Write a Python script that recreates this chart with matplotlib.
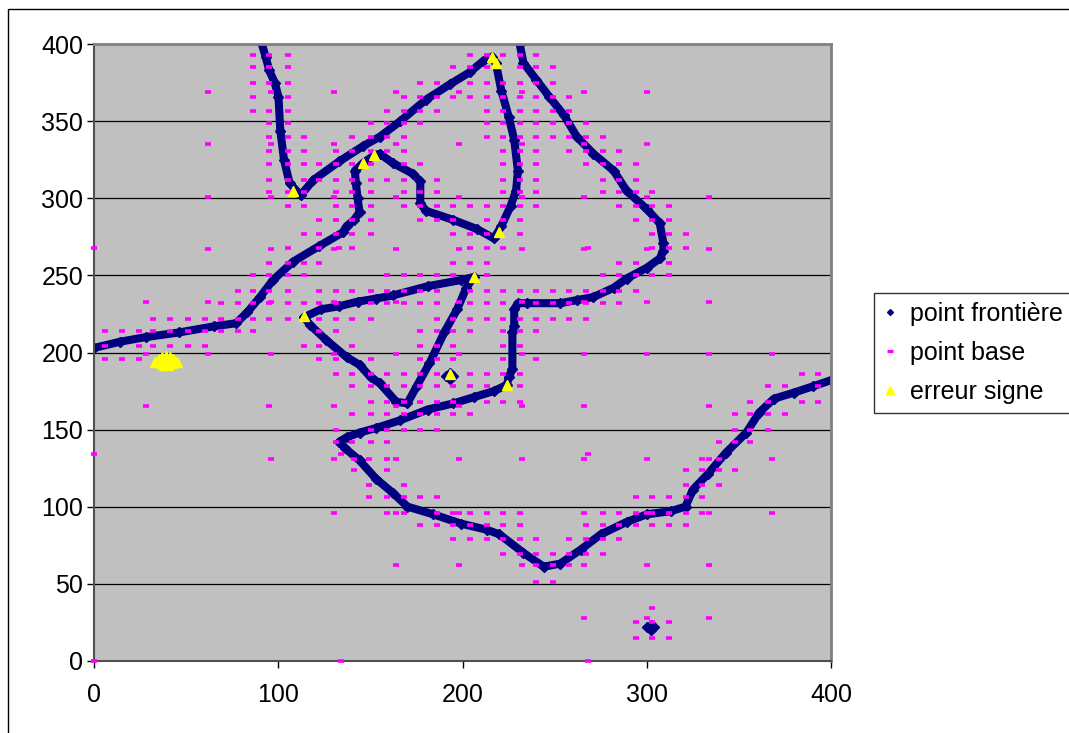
import matplotlib.pyplot as plt
from matplotlib.lines import Line2D
from matplotlib.patches import Rectangle

plt.rcParams['font.family'] = ['Liberation Sans', 'DejaVu Sans']

# point frontière : traced boundaries
front1_x = [0, 14, 28, 46, 65, 77, 83, 90, 97, 108, 122, 135, 137, 141, 144, 143, 142, 141.5,
            146, 152, 155, 162, 173, 177, 177, 180, 195, 208, 217, 221, 226, 229, 230, 228, 225,
            221, 218, 216, 211, 204, 193, 180, 166, 155, 146, 133, 119, 112, 106, 103, 101, 100,
            98, 95, 93, 91]
front1_y = [203, 207, 210, 213, 217, 219, 226, 236, 247, 259, 269, 278, 282, 286, 291, 300, 310, 318,
            323, 328, 329, 323, 316, 311, 297, 292, 286, 280, 274, 282, 295, 305, 318, 338, 353,
            370, 388, 392, 389, 382, 374, 364, 350, 340, 334, 324, 312, 302, 310, 325, 344, 366,
            375, 383, 392, 400]

front2_x = [231, 233, 240, 247, 255, 262, 271, 282, 289, 300, 307, 309, 309, 307, 300, 289, 282,
            271, 262, 253, 235, 230, 228, 228, 227, 227, 225, 224, 217, 206, 195, 181, 166, 153,
            144, 137, 133, 136, 144, 153, 162, 170, 184, 199, 213, 220, 233, 244, 253, 264, 275,
            289, 300, 313, 321, 325, 333, 343, 354, 361, 369, 380, 390, 400]
front2_y = [400, 388, 377, 366, 354, 340, 329, 318, 305, 293, 284, 271, 266, 261, 255, 248, 242,
            236, 234, 232, 232, 232, 228, 217, 213, 189, 184, 179, 175, 171, 167, 163, 156, 151,
            148, 145, 142, 138, 130, 118, 109, 100, 95, 89, 85, 82, 70, 61, 63, 72, 82,
            90, 95, 97, 100, 111, 121, 135, 148, 161, 170, 174, 178, 182]

front3_x = [114, 123, 133, 143, 153, 162, 181, 199, 206, 202, 197, 190, 182, 175, 170, 164, 155,
            150, 144, 137, 126, 117, 114]
front3_y = [223, 228, 230, 233, 235, 237, 243, 247, 249, 242, 228, 213, 193, 178, 167, 168, 180,
            184, 192, 197, 208, 218, 223]

spot_x = [191, 193, 195, 193, 300, 302, 304, 302]
spot_y = [185, 183, 185, 187, 22, 20, 22, 23]

# point base : rows of points (y value, x values)
base_y = [393, 385, 375, 369, 366, 357, 349, 340, 335, 331, 322, 312, 304, 301, 295, 286, 277,
          268, 267, 258, 250, 240, 233, 232, 222, 214, 204, 199, 196, 186, 178, 168, 165, 160,
          150, 142, 134, 131, 124, 114, 106, 96, 88, 79, 69, 62, 51, 34, 28, 25, 15, 0]
base_x = [
    [86, 95, 105, 204, 213, 222, 231, 240],
    [86, 95, 105, 195, 204, 213, 231, 240, 249],
    [86, 95, 105, 177, 186, 204, 213, 222, 231, 240, 249],
    [62, 96, 130, 164, 198, 232, 266, 300],
    [86, 105, 168, 177, 186, 195, 204, 213, 222, 231, 240, 249, 258],
    [86, 95, 105, 159, 168, 177, 186, 213, 222, 231, 240, 249, 258],
    [95, 105, 150, 159, 168, 177, 213, 222, 231, 240, 249, 258, 267],
    [95, 105, 114, 140, 150, 159, 168, 213, 222, 231, 240, 249, 258, 267, 276],
    [62, 96, 130, 164, 198, 232, 266, 300],
    [95, 105, 114, 131, 140, 150, 159, 168, 222, 231, 240, 258, 267, 276, 285],
    [95, 105, 114, 122, 131, 140, 150, 168, 177, 222, 231, 240, 267, 276, 285, 294],
    [95, 105, 114, 122, 131, 140, 150, 159, 168, 186, 222, 231, 240, 276, 285, 294],
    [95, 105, 114, 131, 140, 150, 168, 177, 186, 222, 231, 240, 276, 285, 294, 303],
    [62, 96, 130, 164, 198, 232, 266, 300, 334],
    [105, 114, 131, 140, 150, 168, 177, 186, 195, 204, 213, 222, 231, 240, 285, 294, 303, 312],
    [122, 131, 140, 150, 177, 186, 195, 213, 222, 231, 294, 303, 312],
    [114, 122, 131, 140, 150, 195, 204, 213, 231, 303, 312, 321],
    [0, 105, 122, 133, 140, 204, 213, 222, 268, 303, 312, 321],
    [62, 96, 130, 164, 198, 232, 266, 300, 334],
    [95, 105, 114, 122, 195, 204, 213, 285, 294, 312],
    [86, 95, 105, 114, 159, 168, 177, 186, 195, 213, 276, 285, 294, 303, 312],
    [78, 86, 95, 105, 122, 131, 140, 150, 159, 168, 177, 186, 204, 213, 222, 231, 240, 249, 258,
     267, 276, 285, 294],
    [28, 62, 96, 130, 164, 198, 232, 266, 300, 334],
    [69, 78, 86, 95, 105, 114, 122, 131, 150, 159, 168, 177, 186, 204, 213, 222, 240, 249, 258,
     267, 276, 285],
    [32, 41, 51, 60, 69, 78, 86, 95, 105, 122, 131, 140, 150, 186, 195, 204, 213, 222, 231, 240,
     249, 258, 267],
    [6, 15, 24, 32, 41, 51, 60, 69, 78, 86, 122, 131, 177, 186, 195, 204, 222, 231, 240],
    [6, 24, 32, 41, 51, 60, 114, 122, 140, 177, 186, 195, 222, 231],
    [28, 62, 96, 130, 164, 198, 232, 266, 300, 334, 368],
    [6, 15, 24, 122, 131, 150, 177, 186, 195, 222, 240],
    [131, 140, 150, 159, 168, 177, 186, 204, 213, 222, 231, 384, 393],
    [140, 150, 159, 168, 177, 186, 195, 204, 213, 231, 366, 375, 393],
    [150, 159, 168, 177, 186, 195, 213, 222, 231, 356, 366, 384, 393],
    [28, 95, 130, 164, 198, 232, 266, 334],
    [140, 150, 159, 168, 177, 186, 195, 204, 348, 356, 366, 375],
    [131, 150, 159, 168, 177, 186, 348, 356, 366],
    [131, 140, 150, 159, 339, 348, 356],
    [0, 134, 268],
    [96, 130, 141, 149, 159, 164, 198, 232, 266, 300, 330, 334, 339, 368],
    [141, 159, 321, 330, 339, 348],
    [149, 168, 321, 330, 339],
    [149, 159, 168, 177, 186, 294, 303, 312, 321, 330],
    [130, 159, 164, 168, 186, 195, 198, 204, 213, 222, 231, 266, 276, 285, 294, 300, 303, 312,
     321, 330, 334, 368],
    [177, 186, 195, 204, 213, 222, 231, 267, 276, 285, 294, 303, 312, 321],
    [195, 204, 213, 222, 231, 240, 258, 267, 276, 285],
    [222, 231, 240, 249, 258, 267, 276],
    [164, 198, 232, 240, 249, 258, 266, 300, 334],
    [240, 249],
    [303],
    [266, 300, 334],
    [294, 303, 312],
    [294, 303, 312],
    [0, 134, 268],
]

# erreur signe
err_x = [108, 146, 152, 216, 218, 220, 206, 114, 193, 224,
         33, 35, 37, 39, 41, 43, 45, 36, 39, 42, 38, 40]
err_y = [305, 323, 328, 392, 388, 278, 249, 224, 186, 179,
         194, 196, 197, 198, 197, 196, 194, 193, 194, 193, 192, 192]

navy = '#000080'
magenta = '#FF00FF'
yellow = '#FFFF00'

fig = plt.figure(figsize=(10.69, 7.33), dpi=100)
ax = fig.add_axes([94.3 / 1069, 1 - 660.7 / 733, (831 - 94.3) / 1069, (660.7 - 44.3) / 733])
ax.set_facecolor('#C0C0C0')

for fx, fy in [(front1_x, front1_y), (front2_x, front2_y), (front3_x, front3_y)]:
    ax.plot(fx, fy, color=navy, lw=5.8, marker='D', ms=5.5, solid_capstyle='round',
            solid_joinstyle='round', zorder=2)
ax.plot(spot_x, spot_y, ls='none', color=navy, marker='D', ms=5.5, zorder=2)

bx, by = [], []
for yv, xs in zip(base_y, base_x):
    bx.extend(xs)
    by.extend([yv] * len(xs))
ax.plot(bx, by, ls='none', color=magenta, marker='_', ms=4.3, mew=2.6, zorder=3, clip_on=False)

ax.plot(err_x, err_y, ls='none', color=yellow, marker='^', ms=6.5, mec=yellow, zorder=4)

ax.set_xlim(0, 400)
ax.set_ylim(0, 400)
ax.set_xticks(range(0, 401, 100))
ax.set_yticks(range(0, 401, 50))
ax.tick_params(direction='out', length=5, width=1, labelsize=18, colors='black')
ax.tick_params(axis='x', pad=11)
ax.tick_params(axis='y', pad=3)
for yv in range(50, 400, 50):
    ax.axhline(yv, color='black', lw=0.9, zorder=1)
for side in ['top', 'right']:
    ax.spines[side].set_color('#808080')
    ax.spines[side].set_linewidth(2)
for side in ['left', 'bottom']:
    ax.spines[side].set_color('#505050')
    ax.spines[side].set_linewidth(1.5)

handles = [Line2D([], [], ls='none', marker='D', ms=3, color=navy),
           Line2D([], [], ls='none', marker='_', ms=4, mew=2.3, color=magenta),
           Line2D([], [], ls='none', marker='^', ms=6, color=yellow)]
labels = ['point frontière', 'point base', 'erreur signe']
leg = fig.legend(handles, labels, loc='upper left', bbox_to_anchor=(874 / 1069, 1 - 293 / 733),
                 frameon=True, fancybox=False, edgecolor='black', fontsize=18,
                 handlelength=0.6, handletextpad=0.5, borderpad=0.35, labelspacing=0.6,
                 borderaxespad=0)
leg.get_frame().set_linewidth(1)

fig.patches.append(Rectangle((8 / 1069, -0.1), 1.2, 1.1 - 9 / 733, transform=fig.transFigure,
                             fill=False, ec='black', lw=1))

fig.savefig('out.png', dpi=100)
